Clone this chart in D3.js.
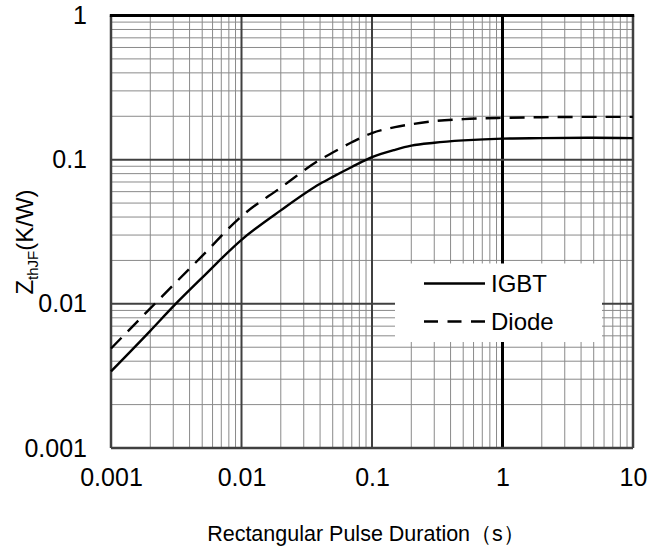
<!DOCTYPE html>
<html>
<head>
<meta charset="utf-8">
<script src="https://cdn.jsdelivr.net/npm/d3@7"></script>
<style>
  body { margin: 0; background: #fff; }
  text { font-family: Arial, "Liberation Sans", sans-serif; fill: #000; }
</style>
</head>
<body>
<div id="wrapper"></div>
<script>
/* global d3 */

// data
const pulseTime = [0.001, 0.002, 0.003, 0.005, 0.01, 0.02, 0.04, 0.05, 0.07, 0.1, 0.15, 0.2, 0.3, 0.5, 1, 2, 5, 10]
const igbtZth   = [0.0034, 0.0065, 0.0096, 0.0152, 0.0278, 0.0445, 0.068, 0.076, 0.089, 0.104, 0.117, 0.125, 0.131, 0.136, 0.140, 0.141, 0.142, 0.141]
const diodeZth  = [0.0049, 0.0093, 0.0135, 0.0215, 0.0405, 0.064, 0.100, 0.112, 0.132, 0.153, 0.168, 0.176, 0.185, 0.191, 0.195, 0.197, 0.198, 0.198]

const xTickValues = [0.001, 0.01, 0.1, 1, 10]
const xTickLabels = ["0.001", "0.01", "0.1", "1", "10"]
const yTickValues = [0.001, 0.01, 0.1, 1]
const yTickLabels = ["0.001", "0.01", "0.1", "1"]

const seriesNames = ["IGBT", "Diode"]

function drawChart() {

  // dimensions
  let dimensions = {
    width: 665,
    height: 553,
    margins: {
      top: 15.5,
      right: 32,
      bottom: 105,
      left: 111,
    }
  }
  dimensions.boundedWidth = dimensions.width
    - dimensions.margins.left
    - dimensions.margins.right
  dimensions.boundedHeight = dimensions.height
    - dimensions.margins.top
    - dimensions.margins.bottom

  const wrapper = d3.select("#wrapper")
    .append("svg")
      .attr("width", dimensions.width)
      .attr("height", dimensions.height)

  const bounds = wrapper.append("g")
    .attr("transform", `translate(${dimensions.margins.left}, ${dimensions.margins.top})`)

  // scales
  const xScale = d3.scaleLog()
    .domain([0.001, 10])
    .range([0, dimensions.boundedWidth])

  const yScale = d3.scaleLog()
    .domain([0.001, 1])
    .range([dimensions.boundedHeight, 0])

  const isDecade = v => Math.abs(Math.log10(v) - Math.round(Math.log10(v))) < 1e-9

  // grid: minor first, then decades on top
  const grid = bounds.append("g")
  const xGrid = xScale.ticks()
  const yGrid = yScale.ticks()

  grid.selectAll(".xminor")
    .data(xGrid.filter(d => !isDecade(d)))
    .join("line")
      .attr("x1", d => xScale(d)).attr("x2", d => xScale(d))
      .attr("y1", 0).attr("y2", dimensions.boundedHeight)
      .attr("stroke", "#8a8a8a")
      .attr("stroke-width", 1)

  grid.selectAll(".yminor")
    .data(yGrid.filter(d => !isDecade(d)))
    .join("line")
      .attr("x1", 0).attr("x2", dimensions.boundedWidth)
      .attr("y1", d => yScale(d)).attr("y2", d => yScale(d))
      .attr("stroke", "#8a8a8a")
      .attr("stroke-width", 1)

  grid.selectAll(".xmajor")
    .data(xTickValues.slice(1, -1))
    .join("line")
      .attr("x1", d => xScale(d)).attr("x2", d => xScale(d))
      .attr("y1", 0).attr("y2", dimensions.boundedHeight)
      .attr("stroke", d => d === 1 ? "#000" : "#404040")
      .attr("stroke-width", d => d === 1 ? 3 : 2)

  grid.selectAll(".ymajor")
    .data(yTickValues.slice(1, -1))
    .join("line")
      .attr("x1", 0).attr("x2", dimensions.boundedWidth)
      .attr("y1", d => yScale(d)).attr("y2", d => yScale(d))
      .attr("stroke", "#404040")
      .attr("stroke-width", 2)

  // frame
  bounds.append("line")
    .attr("x1", 0).attr("x2", 0)
    .attr("y1", 0).attr("y2", dimensions.boundedHeight)
    .attr("stroke", "#404040").attr("stroke-width", 2.5)
  bounds.append("line")
    .attr("x1", dimensions.boundedWidth).attr("x2", dimensions.boundedWidth)
    .attr("y1", 0).attr("y2", dimensions.boundedHeight)
    .attr("stroke", "#404040").attr("stroke-width", 2.5)
  bounds.append("line")
    .attr("x1", 0).attr("x2", dimensions.boundedWidth)
    .attr("y1", dimensions.boundedHeight).attr("y2", dimensions.boundedHeight)
    .attr("stroke", "#404040").attr("stroke-width", 2.5)
  bounds.append("line")
    .attr("x1", -1.2).attr("x2", dimensions.boundedWidth + 1.2)
    .attr("y1", 0).attr("y2", 0)
    .attr("stroke", "#000").attr("stroke-width", 3)

  // curves
  const series = [
    { name: seriesNames[0], values: igbtZth, dash: null },
    { name: seriesNames[1], values: diodeZth, dash: "15,9" },
  ]

  const lineGenerator = d3.line()
    .x(d => xScale(d[0]))
    .y(d => yScale(d[1]))
    .curve(d3.curveMonotoneX)

  bounds.selectAll(".curve")
    .data(series)
    .join("path")
      .attr("d", s => lineGenerator(pulseTime.map((t, i) => [t, s.values[i]])))
      .attr("fill", "none")
      .attr("stroke", "#000")
      .attr("stroke-width", 2.4)
      .attr("stroke-dasharray", s => s.dash)

  // axes (labels only)
  const xAxisGenerator = d3.axisBottom(xScale)
    .tickValues(xTickValues)
    .tickSize(0)
    .tickPadding(20)
    .tickFormat((d, i) => xTickLabels[i])

  const xAxis = bounds.append("g")
    .attr("transform", `translate(0, ${dimensions.boundedHeight})`)
    .call(xAxisGenerator)
  xAxis.select(".domain").remove()
  xAxis.selectAll("text")
    .style("font-size", "25px")
    .style("font-family", "Arial, 'Liberation Sans', sans-serif")

  const yAxisGenerator = d3.axisLeft(yScale)
    .tickValues(yTickValues)
    .tickSize(0)
    .tickPadding(24)
    .tickFormat((d, i) => yTickLabels[i])

  const yAxis = bounds.append("g")
    .call(yAxisGenerator)
  yAxis.select(".domain").remove()
  yAxis.selectAll("text")
    .style("font-size", "25px")
    .style("font-family", "Arial, 'Liberation Sans', sans-serif")

  // axis titles
  wrapper.append("text")
    .attr("x", 366)
    .attr("y", 541)
    .attr("text-anchor", "middle")
    .style("font-size", "21.5px")
    .text("Rectangular Pulse Duration（s）")

  const yTitle = wrapper.append("text")
    .attr("transform", "translate(33, 242) rotate(-90)")
    .attr("text-anchor", "middle")
    .style("font-size", "24px")
  yTitle.append("tspan").text("Z")
  yTitle.append("tspan")
    .attr("dy", 5)
    .style("font-size", "15px")
    .text("thJF")
  yTitle.append("tspan")
    .attr("dy", -5)
    .text("(K/W)")

  // legend
  const legend = wrapper.append("g")
  legend.append("rect")
    .attr("x", 395).attr("y", 263.5)
    .attr("width", 207).attr("height", 78.5)
    .attr("fill", "#fff")

  const legendRows = legend.selectAll(".row")
    .data(series)
    .join("g")
      .attr("transform", (d, i) => `translate(424, ${283.5 + i * 38})`)

  legendRows.append("line")
    .attr("x1", 0).attr("x2", 61)
    .attr("stroke", "#000")
    .attr("stroke-width", 2.4)
    .attr("stroke-dasharray", d => d.dash ? "14,9.5" : null)

  legendRows.append("text")
    .attr("x", 67)
    .attr("y", 8.5)
    .style("font-size", "24px")
    .text(d => d.name)
}

drawChart()
</script>
</body>
</html>
